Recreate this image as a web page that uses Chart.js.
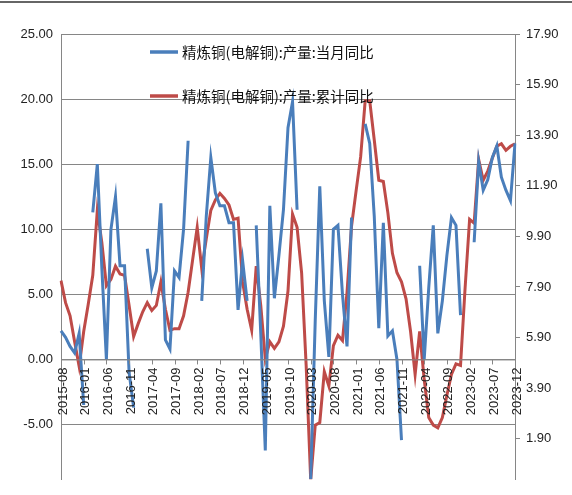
<!DOCTYPE html>
<html>
<head>
<meta charset="utf-8">
<script src="https://cdn.jsdelivr.net/npm/chart.js@4"></script>
<style>
  html, body { margin: 0; padding: 0; background: #fff; }
  #wrap { width: 572px; height: 495px; }
</style>
</head>
<body>
<div id="wrap"><canvas id="chart" width="572" height="495"></canvas></div>
<script>
// months 2015-08 .. 2023-12
const months = [];
for (let y = 2015, m = 8; y < 2024; ) {
    months.push(y + '-' + String(m).padStart(2, '0'));
    m++; if (m > 12) { m = 1; y++; }
}

const seriesNames = ['精炼铜(电解铜):产量:当月同比', '精炼铜(电解铜):产量:累计同比'];

// 当月同比 (left axis, %)
const monthlyYoY = [
    2.2, 1.7, 1.0, 0.5, 2.0, -3.5, null, 11.3, 15, 7,
    0, 10, 12.5, 7.2, 7.2, -1, -3.7, null, null, 8.5,
    5.5, 6.8, 12, 1.5, 0.8, 6.8, 6.3, 10, 16.8, null,
    null, 4.5, 11, 15.5, 12.8, 11.8, 11.8, 10.5, 10.5, 3.8,
    7.6, 4.5, null, 10.3, 2, -7, 11.8, 4.7, 8, 11.5,
    17.8, 19.8, 11.5, null, null, -9.2, 3, 13.3, 4.5, 0.2,
    10, 10.3, 5, 1, 10.9, null, null, 18.1, 16.6, 11,
    2.4, 10.5, 1.8, 2.2, 0, -6.2, null, null, null, 7.2,
    0, 5.5, 10.3, 2, 4.5, 8, 10.9, 10.3, 3.4, null,
    null, 9, 15.2, 13, 13.8, 15.5, 16.4, 14, 13, 12.2,
    16.6
];

// 累计同比 (right axis, %)
const cumulativeYoY = [
    8.15, 7.28, 6.76, 5.73, 4.75, 6.14, 7.22, 8.36, 10.93, 9.65,
    7.95, 8.2, 8.72, 8.41, 8.36, 7.17, 5.94, 6.45, 6.92, 7.28,
    6.97, 7.17, 8.1, 7.02, 6.19, 6.25, 6.25, 6.76, 7.69, 8.98,
    10.26, 8.62, 9.8, 10.93, 11.34, 11.6, 11.4, 11.14, 10.57, 10.62,
    8.1, 7.02, 6.19, 8.72, 7.17, 5.06, 5.73, 5.47, 5.73, 6.35,
    7.74, 10.78, 10.26, 8.46, 4.8, 0.27, 2.44, 2.54, 4.55, 3.98,
    5.58, 5.99, 5.78, 7.69, 10.31, 11.7, 13.04, 15.26, 15.26, 13.71,
    12.12, 12.07, 10.83, 9.23, 8.46, 8.1, 7.43, 6.14, 4.44, 6.14,
    4.24, 2.74, 2.44, 2.33, 2.74, 3.62, 4.44, 4.86, 4.8, 7.84,
    10.57, 10.42, 12.94, 12.12, 12.48, 12.99, 13.46, 13.56, 13.3, 13.46,
    13.56
];

const leftTicks = [-5, 0, 5, 10, 15, 20, 25];
const rightTicks = [1.9, 3.9, 5.9, 7.9, 9.9, 11.9, 13.9, 15.9, 17.9];
const labelStep = 5;

const BLUE = '#4a7ebb';
const RED = '#be4b48';
const AXIS = '#868686';

// custom x axis on the zero line + legend + top rule
const decor = {
    id: 'decor',
    afterDraw(chart) {
        const { ctx, scales: { x, y }, chartArea } = chart;
        const y0 = y.getPixelForValue(0);
        ctx.save();
        ctx.strokeStyle = AXIS;
        ctx.lineWidth = 1;
        ctx.beginPath();
        ctx.moveTo(chartArea.left, y0 + 0.5);
        ctx.lineTo(chartArea.right, y0 + 0.5);
        for (let i = 0; i < months.length; i += labelStep) {
            const px = Math.round(x.getPixelForValue(i)) + 0.5;
            ctx.moveTo(px, y0);
            ctx.lineTo(px, y0 + 5);
        }
        ctx.stroke();

        ctx.fillStyle = '#222';
        ctx.font = '13px "Liberation Sans", Arial, sans-serif';
        ctx.textAlign = 'right';
        ctx.textBaseline = 'middle';
        for (let i = 0; i < months.length; i += labelStep) {
            const px = x.getPixelForValue(i);
            ctx.save();
            ctx.translate(px + 2, y0 + 8);
            ctx.rotate(-Math.PI / 2);
            ctx.fillText(months[i], 0, 0);
            ctx.restore();
        }

        // legend
        const items = [[seriesNames[0], BLUE, 52], [seriesNames[1], RED, 96]];
        ctx.font = '14.5px "Noto Sans CJK SC", sans-serif';
        ctx.textAlign = 'left';
        items.forEach(([txt, col, ly]) => {
            ctx.strokeStyle = col;
            ctx.lineWidth = 3.5;
            ctx.beginPath();
            ctx.moveTo(150, ly);
            ctx.lineTo(178, ly);
            ctx.stroke();
            ctx.fillStyle = '#111';
            ctx.fillText(txt, 182, ly);
        });

        // top rule
        ctx.strokeStyle = '#333';
        ctx.lineWidth = 1.5;
        ctx.beginPath();
        ctx.moveTo(0, 2);
        ctx.lineTo(572, 2);
        ctx.stroke();
        ctx.restore();
    }
};

new Chart(document.getElementById('chart'), {
    type: 'line',
    data: {
        labels: months,
        datasets: [
            { label: seriesNames[0], data: monthlyYoY, yAxisID: 'y', borderColor: BLUE, borderWidth: 3, pointRadius: 0, tension: 0, spanGaps: false },
            { label: seriesNames[1], data: cumulativeYoY, yAxisID: 'y1', borderColor: RED, borderWidth: 3, pointRadius: 0, tension: 0 }
        ]
    },
    options: {
        responsive: false,
        animation: false,
        layout: { padding: { top: 34, bottom: 13, left: 0, right: 0 } },
        plugins: { legend: { display: false }, tooltip: { enabled: false } },
        scales: {
            x: { display: false, offset: false },
            y: {
                position: 'left',
                min: -9.2, max: 25,
                afterBuildTicks: s => { s.ticks = leftTicks.map(v => ({ value: v })); },
                afterFit: s => { s.width = 61; },
                ticks: { color: '#222', font: { family: 'Liberation Sans', size: 13 }, padding: 8, callback: v => v.toFixed(2) },
                grid: { color: AXIS, drawTicks: false },
                border: { color: AXIS }
            },
            y1: {
                position: 'right',
                min: 0.3, max: 17.9,
                afterBuildTicks: s => { s.ticks = rightTicks.map(v => ({ value: v })); },
                afterFit: s => { s.width = 57; },
                ticks: { color: '#222', font: { family: 'Liberation Sans', size: 13 }, padding: 6, callback: v => v.toFixed(2) },
                grid: { drawOnChartArea: false, color: AXIS, tickLength: 5 },
                border: { color: AXIS }
            }
        }
    },
    plugins: [decor]
});
</script>
</body>
</html>
